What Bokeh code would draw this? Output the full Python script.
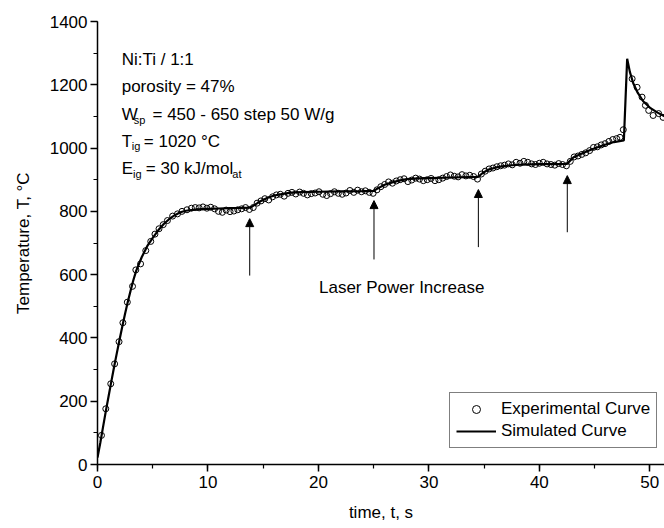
from bokeh.plotting import figure
from bokeh.models import Range1d, SingleIntervalTicker, Arrow, NormalHead, Label, Legend, LegendItem
from bokeh.embed import file_html
from bokeh.resources import INLINE

# ---- data ----
t_exp = [0.36, 0.75, 1.2, 1.55, 1.95, 2.3, 2.7, 3.17, 3.47, 3.9, 4.37, 4.82, 5.2, 5.57, 5.95,
         6.33, 6.8, 7.24, 7.65, 8.1, 8.5, 8.85, 9.2, 9.55, 9.9, 10.25, 10.6, 10.95, 11.3, 11.65,
         12.0, 12.35, 12.7, 13.05, 13.4, 13.75, 14.1, 14.45, 14.8, 15.15, 15.5, 15.85, 16.2, 16.55,
         16.9, 17.25, 17.6, 17.95, 18.3, 18.65, 19.0, 19.35, 19.7, 20.05, 20.4, 20.75, 21.1, 21.45,
         21.8, 22.15, 22.5, 22.85, 23.2, 23.55, 23.9, 24.25, 24.6, 24.95, 25.3, 25.65, 26.0, 26.35,
         26.7, 27.05, 27.4, 27.75, 28.1, 28.45, 28.8, 29.15, 29.5, 29.85, 30.2, 30.55, 30.9, 31.25,
         31.6, 31.95, 32.3, 32.65, 33.0, 33.35, 33.7, 34.05, 34.4, 34.75, 35.1, 35.45, 35.8, 36.15,
         36.5, 36.85, 37.2, 37.55, 37.9, 38.25, 38.6, 38.95, 39.3, 39.65, 40.0, 40.35, 40.7, 41.05,
         41.4, 41.75, 42.1, 42.45, 42.8, 43.15, 43.5, 43.85, 44.2, 44.55, 44.9, 45.25, 45.6, 45.95,
         46.3, 46.65, 47.0, 47.3, 47.6, 48.4, 48.85, 49.3, 49.6, 49.9, 50.3, 50.8, 51.2, 51.6]
T_exp = [92, 176, 255, 318, 388, 448, 513, 563, 615, 634, 676, 705, 728, 745, 758,
         771, 785, 792, 800, 805, 810, 812, 811, 814, 810, 813, 808, 800, 797, 804,
         799, 801, 805, 808, 812, 806, 812, 826, 833, 840, 836, 846, 852, 854,
         848, 857, 860, 855, 861, 857, 852, 856, 858, 862, 854, 850, 856, 862,
         857, 854, 858, 866, 860, 867, 862, 865, 860, 857, 868, 878, 885, 893,
         889, 896, 900, 903, 894, 899, 905, 902, 897, 900, 904, 897, 900, 905,
         910, 915, 911, 909, 916, 912, 914, 910, 902, 918, 927, 934, 937, 941,
         944, 946, 950, 947, 955, 952, 958, 955, 950, 948, 952, 955, 950, 948,
         946, 951, 948, 944, 958, 972, 975, 980, 985, 992, 1002, 1004, 1010, 1014,
         1021, 1027, 1030, 1034, 1058, 1219, 1192, 1161, 1135, 1119, 1103, 1109, 1097, 1093]

t_sim = [0, 0.25, 0.5, 0.75, 1.0, 1.25, 1.5, 1.75, 2.0, 2.25, 2.5, 2.75, 3.0, 3.25, 3.5, 4.0,
         4.5, 5.0, 5.5, 6.0, 6.5, 7.0, 7.5, 8.0, 9.0, 10.0, 11.0, 12.0, 13.0, 13.85, 14.3, 14.8,
         15.4, 16.0, 16.8, 17.5, 18.5, 20.0, 22.0, 24.0, 25.0, 25.5, 26.0, 26.6, 27.3, 28.0, 29.0,
         30.0, 32.0, 34.45, 34.9, 35.4, 36.0, 36.6, 37.2, 38.5, 40.0, 42.5, 43.1, 44.0, 44.9, 45.8,
         46.75, 47.65, 47.95, 48.2, 48.5, 48.9, 49.4, 50.0, 50.7, 51.5]
T_sim = [22, 68, 118, 168, 215, 262, 308, 352, 395, 437, 477, 515, 550, 583, 612, 655,
         690, 716, 740, 760, 776, 788, 797, 802, 806, 808, 809, 810, 811, 812, 822, 833,
         843, 850, 855, 859, 861, 862, 863, 864, 865, 875, 884, 891, 897, 902, 904,
         905, 907, 909, 922, 932, 938, 942, 945, 948, 949, 950, 971, 985, 998, 1009,
         1019, 1024, 1282, 1240, 1205, 1175, 1148, 1128, 1112, 1097]

arrow_t = [13.78, 25.03, 34.48, 42.53]
arrow_base = [597, 648, 687, 734]
arrow_tip = [777, 834, 869, 913]

info_lines = ["Ni:Ti / 1:1", "porosity = 47%"]
FONT = "Liberation Sans"
FS = "17px"
SUB = "11px"

p = figure(width=664, height=528, output_backend="svg", toolbar_location=None,
           x_range=Range1d(0, 51.33), y_range=Range1d(0, 1400),
           min_border_left=97, min_border_right=0, min_border_top=21, min_border_bottom=64)
p.outline_line_color = None
p.grid.visible = False
p.background_fill_color = "white"

sim = p.line(t_sim, T_sim, line_color="black", line_width=2.2)
exp = p.scatter(t_exp, T_exp, marker="circle", size=6, line_color="black", line_width=1,
                fill_color=None)

for ax, interval in ((p.xaxis[0], 10), (p.yaxis[0], 200)):
    ax.ticker = SingleIntervalTicker(interval=interval, num_minor_ticks=2)
    ax.axis_line_color = "black"
    ax.axis_line_width = 1.5
    ax.major_tick_line_color = "black"
    ax.major_tick_line_width = 1.5
    ax.minor_tick_line_color = "black"
    ax.minor_tick_line_width = 1.2
    ax.major_tick_in = 0
    ax.major_tick_out = 7
    ax.minor_tick_in = 0
    ax.minor_tick_out = 4
    ax.major_label_text_font = FONT
    ax.major_label_text_font_size = FS
    ax.major_label_text_color = "black"
    ax.axis_label_text_font = FONT
    ax.axis_label_text_font_size = FS
    ax.axis_label_text_font_style = "normal"
    ax.axis_label_text_color = "black"

p.xaxis.axis_label = "time, t, s"
p.yaxis.axis_label = "Temperature, T, °C"
p.xaxis.major_label_standoff = 4
p.xaxis.axis_label_standoff = 12
p.yaxis.major_label_standoff = 3
p.yaxis.axis_label_standoff = 14

# arrows
for xa, y0, y1 in zip(arrow_t, arrow_base, arrow_tip):
    p.add_layout(Arrow(x_start=xa, y_start=y0, x_end=xa, y_end=y1, line_color="black",
                       line_width=1,
                       end=NormalHead(size=8, fill_color="black", line_color="black")))

p.add_layout(Label(x=20.05, y=559, text="Laser Power Increase", text_font=FONT,
                   text_font_size=FS, text_color="black", text_baseline="alphabetic"))

# info text block
def lab(x, y, txt, size=FS):
    p.add_layout(Label(x=x, y=y, text=txt, text_font=FONT, text_font_size=size,
                       text_color="black", text_baseline="alphabetic"))

lab(2.19, 1280, info_lines[0])
lab(2.19, 1195, info_lines[1])
lab(2.19, 1106, "W")
lab(3.28, 1090, "sp", SUB)
lab(4.98, 1106, "= 450 - 650 step 50 W/g")
lab(2.19, 1021, "T")
lab(3.1, 1005, "ig", SUB)
lab(4.19, 1021, "= 1020 °C")
lab(2.19, 935, "E")
lab(3.22, 919, "ig", SUB)
lab(4.37, 935, "= 30 kJ/mol")
lab(12.2, 919, "at", SUB)

legend = Legend(items=[LegendItem(label="Experimental Curve", renderers=[exp]),
                       LegendItem(label="Simulated Curve", renderers=[sim])],
                location=(352, 16), padding=6, spacing=2, label_standoff=5,
                glyph_width=40, glyph_height=20, label_height=20,
                label_text_font=FONT, label_text_font_size=FS, label_text_color="black",
                border_line_color="black", border_line_width=1,
                background_fill_color="white", background_fill_alpha=1, margin=0)
p.add_layout(legend)

open("out.html", "w").write(file_html(p, INLINE))
